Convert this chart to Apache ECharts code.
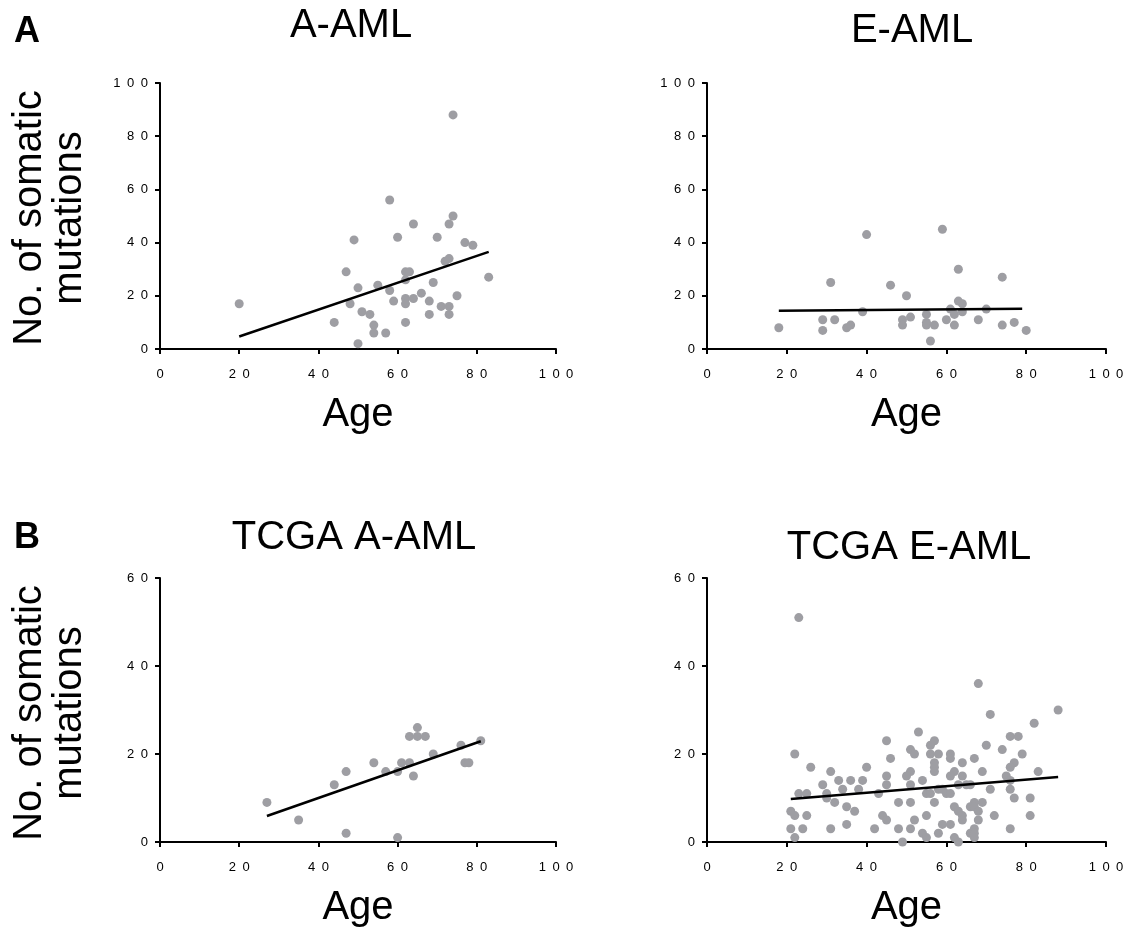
<!DOCTYPE html>
<html>
<head>
<meta charset="utf-8">
<script src="https://cdn.jsdelivr.net/npm/echarts@6/dist/echarts.min.js"></script>
<style>body{margin:0;background:#fff}</style>
</head>
<body>
<div id="main" style="width:1128px;height:929px"></div>
<script>
// [age, number of somatic mutations]
const aAml = [[20,17],[74,88],[58,56],[74,50],[64,47],[73,47],[60,42],[70,42],[49,41],[77,40],[79,39],[72,33],[73,34],[47,29],[62,29],[63,29],[62,26],[83,27],[50,23],[55,24],[58,22],[69,25],[66,21],[48,17],[59,18],[62,19],[64,19],[62,17],[68,18],[75,20],[51,14],[53,13],[71,16],[73,16],[68,13],[73,13],[44,10],[62,10],[54,9],[54,6],[57,6],[50,2]];
const eAml = [[18,8],[40,43],[59,45],[31,25],[46,24],[63,30],[74,27],[50,20],[63,18],[64,17],[39,14],[61,15],[62,13],[64,14],[70,15],[55,13],[29,11],[32,11],[49,11],[51,12],[60,11],[68,11],[29,7],[35,8],[36,9],[49,9],[55,10],[55,9],[57,9],[62,9],[74,9],[77,10],[80,7],[56,3]];
const tcgaAAml = [[27,9],[35,5],[47,2],[60,1],[44,13],[47,16],[54,18],[57,16],[60,16],[61,18],[63,18],[64,15],[63,24],[65,26],[65,24],[67,24],[69,20],[76,22],[77,18],[78,18],[81,23]];
const tcgaEAml = [[23,51],[68,36],[88,30],[71,29],[82,27],[53,25],[76,24],[78,24],[45,23],[57,23],[56,22],[70,22],[74,21],[51,21],[52,20],[22,20],[56,20],[58,20],[61,20],[79,20],[46,19],[61,19],[67,19],[57,18],[64,18],[57,17],[77,18],[76,17],[26,17],[40,17],[31,16],[51,16],[57,16],[62,16],[69,16],[83,16],[50,15],[45,15],[61,15],[64,15],[75,15],[33,14],[36,14],[39,14],[54,14],[76,14],[29,13],[45,13],[51,13],[63,13],[65,13],[66,13],[34,12],[38,12],[58,12],[59,12],[71,12],[76,12],[23,11],[25,11],[30,11],[43,11],[55,11],[56,11],[60,11],[61,11],[30,10],[77,10],[81,10],[32,9],[48,9],[51,9],[57,9],[67,9],[69,9],[66,8],[67,8],[35,8],[62,8],[21,7],[37,7],[63,7],[68,7],[22,6],[25,6],[44,6],[55,6],[64,6],[72,6],[81,6],[45,5],[52,5],[64,5],[68,5],[35,4],[59,4],[61,4],[21,3],[24,3],[31,3],[42,3],[48,3],[51,3],[67,3],[76,3],[54,2],[58,2],[66,2],[67,2],[22,1],[55,1],[62,1],[67,1],[49,0],[63,0]];

// fitted line end points
const aAmlFit = [[20,4.7],[83,36.5]];
const eAmlFit = [[18,14.4],[79,15.1]];
const tcgaAAmlFit = [[27,5.9],[81,22.9]];
const tcgaEAmlFit = [[21,9.8],[88,14.8]];

const titles = ['A-AML', 'E-AML', 'TCGA A-AML', 'TCGA E-AML'];
const yMax = [100, 100, 60, 60];

const FONT = '"Liberation Sans", Arial, sans-serif';
const DOT = '#9e9ea3';

var chart = echarts.init(document.getElementById('main'));

const grids = [
    {left: 160, top: 83, width: 396, height: 266},
    {left: 707, top: 83, width: 399, height: 266},
    {left: 160, top: 578, width: 396, height: 266},
    {left: 707, top: 578, width: 399, height: 266}
];

function spaced(v) {
    return String(v).split('').join('\u2002');
}

const axisCommon = {
    type: 'value',
    axisLine: {onZero: false, lineStyle: {color: '#000', width: 2}},
    axisTick: {length: 5, lineStyle: {color: '#000', width: 2}},
    splitLine: {show: false}
};

const xAxes = grids.map((g, i) => Object.assign({}, axisCommon, {
    gridIndex: i, min: 0, max: 100, interval: 20,
    name: 'Age', nameLocation: 'middle', nameGap: 46,
    nameTextStyle: {fontSize: 40, color: '#000', fontFamily: FONT},
    axisLabel: {margin: 19, fontSize: 13, color: '#000', fontFamily: FONT, formatter: spaced}
}));

const yAxes = grids.map((g, i) => Object.assign({}, axisCommon, {
    gridIndex: i, min: 0, max: yMax[i], interval: 20,
    axisLabel: {margin: 12, fontSize: 13, color: '#000', fontFamily: FONT, formatter: spaced}
}));

const pts = [aAml, eAml, tcgaAAml, tcgaEAml];
const fits = [aAmlFit, eAmlFit, tcgaAAmlFit, tcgaEAmlFit];
const series = [];
pts.forEach((d, i) => {
    series.push({
        type: 'scatter', xAxisIndex: i, yAxisIndex: i, data: d,
        symbolSize: 9, itemStyle: {color: DOT, opacity: 1}, silent: true
    });
});
fits.forEach((d, i) => {
    series.push({
        type: 'line', xAxisIndex: i, yAxisIndex: i, data: d,
        showSymbol: false, lineStyle: {color: '#000', width: 2.5}, silent: true, z: 3
    });
});

const titlePos = [[351, 26], [912, 31], [354, 538], [909, 548]];
const graphic = titles.map((t, i) => ({
    type: 'text', x: titlePos[i][0], y: titlePos[i][1],
    style: {text: t, font: '40px ' + FONT, fill: '#000', align: 'center', verticalAlign: 'middle'}
}));
['A', 'B'].forEach((t, i) => {
    graphic.push({
        type: 'text', x: 27, y: i ? 538 : 32,
        style: {text: t, font: 'bold 36px ' + FONT, fill: '#000', align: 'center', verticalAlign: 'middle'}
    });
});
[218, 713].forEach(cy => {
    graphic.push({
        type: 'text', x: 50, y: cy, rotation: Math.PI / 2,
        style: {text: 'No. of somatic\nmutations', font: '40px ' + FONT, lineHeight: 40,
            fill: '#000', align: 'center', verticalAlign: 'middle'}
    });
});

var option = {
    animation: false,
    backgroundColor: '#fff',
    grid: grids,
    xAxis: xAxes,
    yAxis: yAxes,
    series: series,
    graphic: graphic
};

chart.setOption(option);
</script>
</body>
</html>
